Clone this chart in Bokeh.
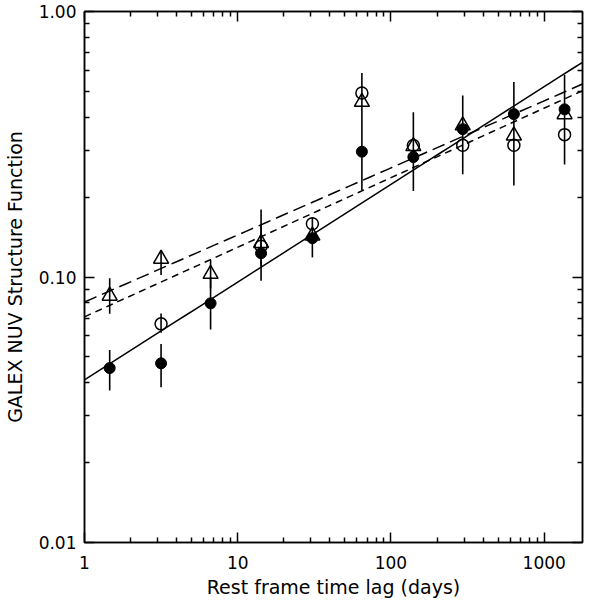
import numpy as np
from bokeh.plotting import figure
from bokeh.models import Range1d, LogAxis, FixedTicker, CustomJSTickFormatter
from bokeh.embed import file_html
from bokeh.resources import INLINE

# ---------------- data ----------------
lag = [1.46, 3.16, 6.65, 14.2, 30.7, 64.6, 140, 294, 634, 1358]

sf_filled = [0.0454, 0.0473, 0.0796, 0.1229, 0.140, 0.2965, 0.283, 0.3605, 0.4107, 0.428]
sf_filled_lo = [0.0374, 0.0384, 0.0634, 0.0967, 0.1185, 0.212, 0.2107, 0.244, 0.221, 0.2654]
sf_filled_hi = [0.0531, 0.0559, 0.0999, 0.156, 0.1677, 0.415, 0.4176, 0.4828, 0.542, 0.578]

sf_tri = [0.0849, 0.117, 0.1026, 0.1342, 0.143, 0.456, 0.311, 0.372, 0.341, 0.41]
tri_err_lag = [1.46, 3.16, 6.65, 14.2]
tri_err_lo = [0.0727, 0.1017, 0.0907, 0.110]
tri_err_hi = [0.099, 0.125, 0.116, 0.1794]

circ_lag = [3.16, 14.2, 30.7, 64.6, 140, 294, 634, 1358]
sf_circ = [0.0666, 0.1306, 0.1587, 0.493, 0.313, 0.3136, 0.3136, 0.3437]
circ_err_lag = [3.16, 64.6]
circ_err_lo = [0.0616, 0.415]
circ_err_hi = [0.0728, 0.586]

# power-law fits  SF = norm * lag**slope
fit_norm = [0.041, 0.0805, 0.0708]
fit_slope = [0.368, 0.2526, 0.262]
fit_dash = ["solid", "13 6", "7 5"]

x_major = [1, 10, 100, 1000]
y_major = [0.01, 0.1, 1.0]

X_MIN, X_MAX = 1.0, 1778.0
Y_MIN, Y_MAX = 0.01, 1.0

FONT = "DejaVu Sans"

# ---------------- figure ----------------
p = figure(width=584, height=600, output_backend="svg", toolbar_location=None,
           x_axis_type="log", y_axis_type="log",
           x_range=Range1d(X_MIN, X_MAX), y_range=Range1d(Y_MIN, Y_MAX),
           min_border_top=11, min_border_right=2, min_border_left=10, min_border_bottom=10)
p.grid.visible = False
p.outline_line_color = "black"
p.outline_line_width = 1.5
p.background_fill_color = "white"
p.border_fill_color = "white"

x_minor = [m * 10 ** k for k in range(0, 4) for m in range(2, 10)]
y_minor = [m * 10.0 ** k for k in range(-2, 0) for m in range(2, 10)]

def style_axis(ax, ticks, minor, fmt_code, show_labels=True):
    ax.ticker = FixedTicker(ticks=ticks, minor_ticks=minor)
    ax.formatter = CustomJSTickFormatter(code=fmt_code if show_labels else "return '';")
    ax.major_tick_in = 10
    ax.major_tick_out = 0
    ax.minor_tick_in = 5
    ax.minor_tick_out = 0
    ax.major_tick_line_width = 1.5
    ax.minor_tick_line_width = 1.5
    ax.major_tick_line_color = "black"
    ax.minor_tick_line_color = "black"
    ax.axis_line_color = "black"
    ax.axis_line_width = 1.5
    ax.major_label_text_font = FONT
    ax.major_label_text_font_size = "17px"
    ax.major_label_text_color = "black"
    ax.axis_label_text_font = FONT
    ax.axis_label_text_font_size = "19px"
    ax.axis_label_text_font_style = "normal"
    ax.axis_label_text_color = "black"

xfmt = "return tick.toFixed(0);"
yfmt = "return tick.toFixed(2);"

style_axis(p.xaxis[0], x_major, x_minor, xfmt)
p.xaxis[0].axis_label = "Rest frame time lag (days)"
p.xaxis[0].major_label_standoff = 13
p.xaxis[0].axis_label_standoff = 4

style_axis(p.yaxis[0], y_major, y_minor, yfmt)
p.yaxis[0].axis_label = "GALEX NUV Structure Function"
p.yaxis[0].major_label_standoff = 8
p.yaxis[0].axis_label_standoff = 10

top = LogAxis()
style_axis(top, x_major, x_minor, xfmt, show_labels=False)
top.major_label_standoff = 0
p.add_layout(top, "above")

right = LogAxis()
style_axis(right, y_major, y_minor, yfmt, show_labels=False)
right.major_label_standoff = 0
p.add_layout(right, "right")

# ---------------- fit lines ----------------
xs_fit = np.logspace(np.log10(X_MIN), np.log10(X_MAX), 50)
for norm, slope, dash in zip(fit_norm, fit_slope, fit_dash):
    p.line(xs_fit, norm * xs_fit ** slope, line_color="black", line_width=1.5, line_dash=dash)

# ---------------- error bars ----------------
p.segment(x0=lag, y0=sf_filled_lo, x1=lag, y1=sf_filled_hi, line_color="black", line_width=1.6)
p.segment(x0=tri_err_lag, y0=tri_err_lo, x1=tri_err_lag, y1=tri_err_hi, line_color="black", line_width=1.6)
p.segment(x0=circ_err_lag, y0=circ_err_lo, x1=circ_err_lag, y1=circ_err_hi, line_color="black", line_width=1.6)

# ---------------- markers ----------------
p.scatter(lag, sf_tri, marker="triangle", size=15, fill_color=None,
          line_color="black", line_width=1.5)
p.scatter(circ_lag, sf_circ, marker="circle", size=12, fill_color=None,
          line_color="black", line_width=1.5)
p.scatter(lag, sf_filled, marker="circle", size=11, fill_color="black",
          line_color="black", line_width=1)

open("out.html", "w").write(file_html(p, INLINE))
